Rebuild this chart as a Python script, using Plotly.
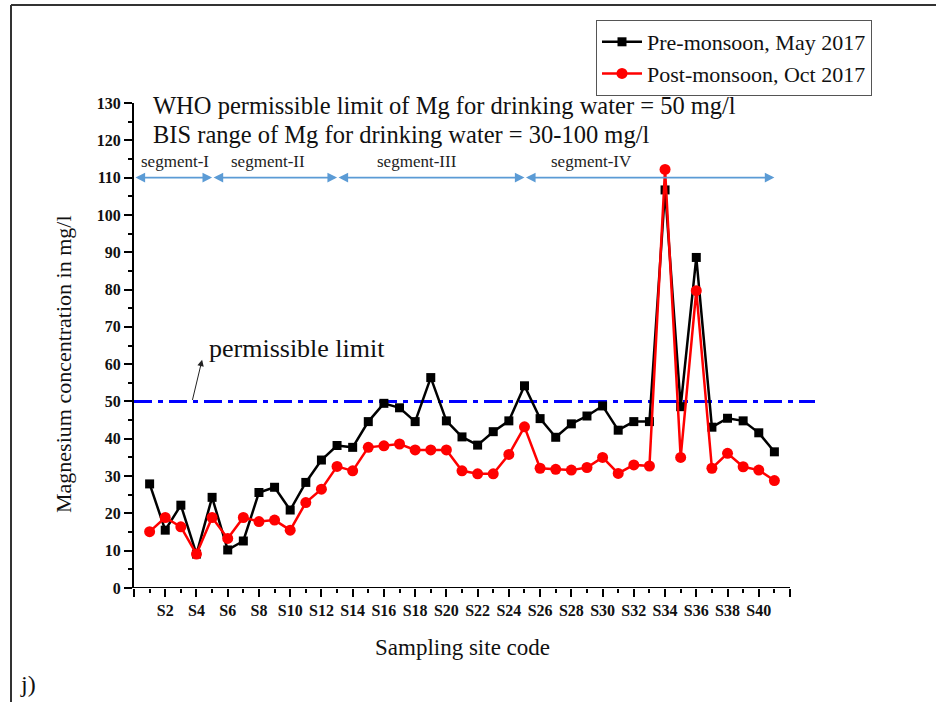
import plotly.graph_objects as go

# ---------------- data ----------------
sites = [f"S{i}" for i in range(1, 42)]
pre_monsoon = [27.9, 15.5, 22.2, 9.1, 24.3, 10.2, 12.6, 25.6, 27.0, 20.9, 28.3, 34.3, 38.2,
               37.7, 44.6, 49.5, 48.3, 44.6, 56.4, 44.8, 40.5, 38.3, 41.9, 44.8, 54.2, 45.4,
               40.4, 44.0, 46.1, 48.8, 42.3, 44.6, 44.6, 106.7, 48.6, 88.6, 43.1, 45.5, 44.8, 41.6, 36.5]
post_monsoon = [15.1, 18.9, 16.4, 9.1, 18.9, 13.3, 18.9, 17.8, 18.2, 15.5, 22.9, 26.5, 32.6,
                31.4, 37.7, 38.1, 38.6, 37.0, 37.0, 37.0, 31.4, 30.6, 30.6, 35.8, 43.2, 32.1,
                31.8, 31.6, 32.3, 35.0, 30.7, 33.0, 32.7, 112.2, 35.0, 79.7, 32.1, 36.1, 32.5, 31.6, 28.8]
who_limit = 50
segments = ["segment-I", "segment-II", "segment-III", "segment-IV"]
segment_bounds = [0, 5, 13, 25, 41]
segment_label_x = [2.6, 8.6, 18.1, 29.3]
x_tick_pos = list(range(0, 43, 2))
x_tick_text = ["" if p == 0 or p > len(sites) else sites[p - 1] for p in x_tick_pos]

x_pos = list(range(1, len(sites) + 1))

SERIF = "Liberation Serif, Times New Roman, serif"

W, H = 936, 702
L, R, T, B = 134, 121, 103, 114
PW = W - L - R
PH = H - T - B


def px2paper_x(px):
    return (px - L) / PW


def px2paper_y(py):
    return (H - B - py) / PH


fig = go.Figure()

# WHO limit line (extends a bit beyond the last tick)
fig.add_trace(go.Scatter(
    x=[0, 43.6], y=[who_limit, who_limit], mode="lines",
    line=dict(color="#0000FF", width=3, dash="18px,6px,5px,6px"),
    showlegend=False, hoverinfo="skip", cliponaxis=False))

fig.add_trace(go.Scatter(
    x=x_pos, y=pre_monsoon, mode="lines+markers", name="Pre-monsoon, May 2017",
    line=dict(color="black", width=2.5),
    marker=dict(symbol="square", size=9, color="black"),
    cliponaxis=False))

fig.add_trace(go.Scatter(
    x=x_pos, y=post_monsoon, mode="lines+markers", name="Post-monsoon, Oct 2017",
    line=dict(color="#FF0000", width=2.5),
    marker=dict(symbol="circle", size=11, color="#FF0000"),
    cliponaxis=False))

annotations = []
# segment arrows and labels
for i, name in enumerate(segments):
    annotations.append(dict(
        x=segment_bounds[i + 1], y=110, ax=segment_bounds[i], ay=110,
        xref="x", yref="y", axref="x", ayref="y", text="", showarrow=True,
        arrowside="end+start", arrowhead=2, arrowsize=1.2, arrowwidth=1.6,
        arrowcolor="#5B9BD5", standoff=0, startstandoff=0))
    annotations.append(dict(
        x=segment_label_x[i], y=114.3, xref="x", yref="y", text=name, showarrow=False,
        font=dict(family=SERIF, size=17, color="#222222"), xanchor="center", yanchor="middle"))

# texts
annotations.append(dict(
    x=px2paper_x(151), y=px2paper_y(105), xref="paper", yref="paper",
    text="WHO permissible limit of Mg for drinking water = 50 mg/l", showarrow=False,
    xanchor="left", yanchor="middle", font=dict(family=SERIF, size=24.5, color="#111111")))
annotations.append(dict(
    x=px2paper_x(151), y=px2paper_y(134), xref="paper", yref="paper",
    text="BIS range of Mg for drinking water = 30-100 mg/l", showarrow=False,
    xanchor="left", yanchor="middle", font=dict(family=SERIF, size=24.5, color="#111111")))

# permissible limit label with arrow
annotations.append(dict(
    x=10.45, y=64.3, xref="x", yref="y", text="permissible limit", showarrow=False,
    xanchor="center", yanchor="middle", font=dict(family=SERIF, size=26, color="#111111")))
annotations.append(dict(
    x=4.36, y=61.2, ax=3.72, ay=who_limit, xref="x", yref="y", axref="x", ayref="y",
    text="", showarrow=True, arrowhead=2, arrowsize=1.3, arrowwidth=1, arrowcolor="#222222",
    standoff=0))

# axis titles
annotations.append(dict(
    x=21, y=0, xref="x", yref="paper", yshift=-59, text="Sampling site code",
    showarrow=False, xanchor="center", yanchor="middle",
    font=dict(family=SERIF, size=23, color="#111111")))
annotations.append(dict(
    x=0, y=px2paper_y(364), xref="paper", yref="paper", xshift=-71,
    text="Magnesium concentration in mg/l", textangle=-90, showarrow=False,
    xanchor="center", yanchor="middle", font=dict(family=SERIF, size=22, color="#111111")))
annotations.append(dict(
    x=px2paper_x(28), y=px2paper_y(684), xref="paper", yref="paper", text="j)",
    showarrow=False, xanchor="center", yanchor="middle",
    font=dict(family=SERIF, size=24, color="#111111")))

shapes = [
    # x axis line (ends at last tick)
    dict(type="line", xref="x", yref="y", x0=0, x1=42, y0=0, y1=0,
         line=dict(color="black", width=2)),
    # image frame
    dict(type="line", xref="paper", yref="paper", x0=px2paper_x(11), x1=px2paper_x(940),
         y0=px2paper_y(5), y1=px2paper_y(5), line=dict(color="#333333", width=2)),
    dict(type="line", xref="paper", yref="paper", x0=px2paper_x(11), x1=px2paper_x(11),
         y0=px2paper_y(5), y1=px2paper_y(710), line=dict(color="#333333", width=2)),
]

fig.update_layout(
    width=W, height=H,
    margin=dict(l=L, r=R, t=T, b=B, pad=0),
    paper_bgcolor="white", plot_bgcolor="white",
    showlegend=True,
    legend=dict(
        x=px2paper_x(596), y=px2paper_y(20), xanchor="left", yanchor="top",
        bgcolor="white", bordercolor="#555555", borderwidth=1,
        font=dict(family=SERIF, size=22, color="#111111"),
        tracegroupgap=0, itemwidth=40),
    annotations=annotations,
    shapes=shapes,
    xaxis=dict(
        range=[0, 43.6], showgrid=False, zeroline=False, showline=False,
        tickmode="array", tickvals=x_tick_pos, ticktext=x_tick_text,
        ticks="outside", ticklen=8, tickwidth=2, tickcolor="black",
        tickfont=dict(family=SERIF, size=16, color="#111111", weight="bold"),
        minor=dict(tickmode="array", tickvals=list(range(1, 42, 2)), ticks="outside",
                   ticklen=4, tickwidth=2, tickcolor="black"),
    ),
    yaxis=dict(
        range=[0, 130], showgrid=False, zeroline=False, showline=True,
        linecolor="black", linewidth=2,
        tickmode="linear", tick0=0, dtick=10,
        ticks="outside", ticklen=8, tickwidth=2, tickcolor="black",
        tickfont=dict(family=SERIF, size=16, color="#111111", weight="bold"),
        minor=dict(dtick=5, ticks="outside", ticklen=4, tickwidth=2, tickcolor="black"),
    ),
)

fig.write_html(
    "out.html",
    config={"displayModeBar": False},
    post_script="document.body.style.margin='0';document.body.style.overflow='hidden';",
)
